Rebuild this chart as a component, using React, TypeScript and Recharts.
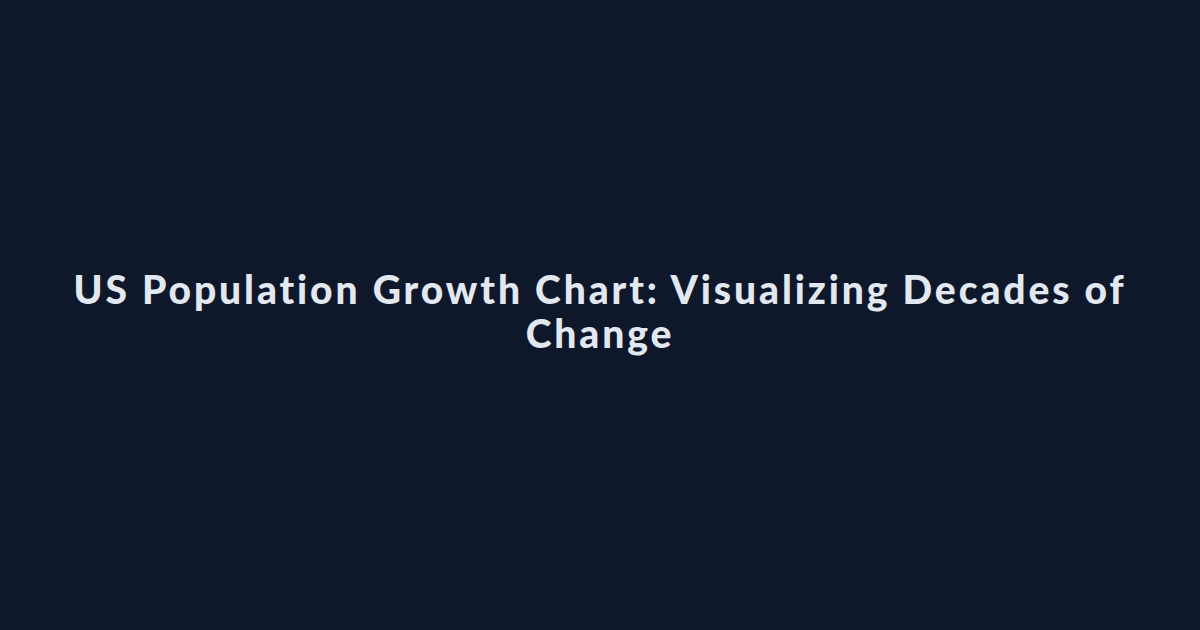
import React from "react";
import { LineChart, Customized, Text } from "recharts";

const titleLines: string[] = [
  "US Population Growth Chart: Visualizing Decades of",
  "Change",
];
const chartData: { year: string; population: number }[] = [];

const BG = "#0f172a";
const FG = "#e2e8f0";

const Title = () => (
  <g>
    {titleLines.map((line, i) => (
      <Text
        key={i}
        x={600}
        y={290 + i * 44}
        textAnchor="middle"
        verticalAnchor="middle"
        fill={FG}
        style={{
          fontFamily: "Lato, 'Open Sans', sans-serif",
          fontWeight: 900,
          fontSize: 39,
          letterSpacing: 2.9,
          fontVariantLigatures: "none",
        }}
      >
        {line}
      </Text>
    ))}
  </g>
);

export default function App() {
  return (
    <div style={{ position: "fixed", left: 0, top: 0, width: 1200, height: 630, background: BG }}>
      <LineChart width={1200} height={630} data={chartData} margin={{ top: 0, right: 0, bottom: 0, left: 0 }}>
        <Customized component={Title} />
      </LineChart>
    </div>
  );
}
